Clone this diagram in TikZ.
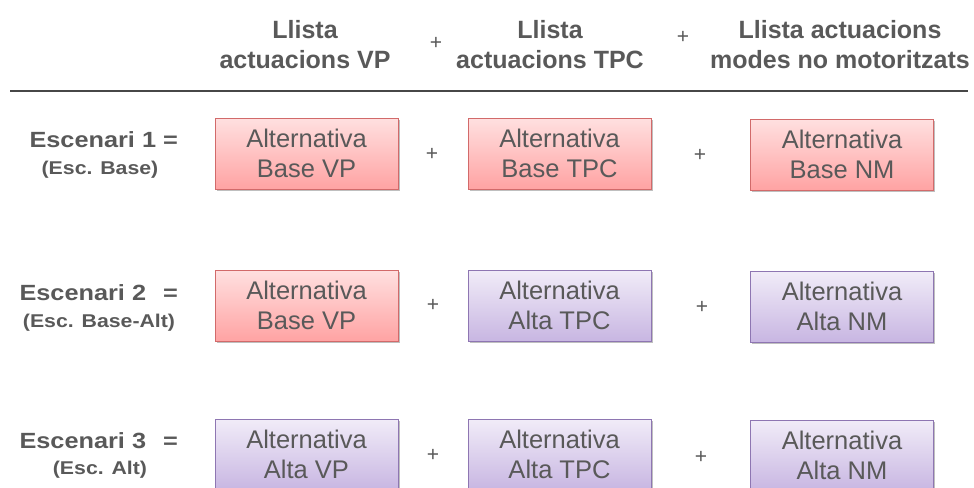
\documentclass[tikz,border=0pt]{standalone}
\usepackage{fontspec}
\setmainfont{Liberation Sans}
\newfontfamily\widefont[FakeStretch=1.15]{Liberation Sans}
\usetikzlibrary{shadows}
\definecolor{txt}{HTML}{595959}
\definecolor{pinktop}{HTML}{FFE0E0}
\definecolor{pinkbot}{HTML}{FFA3A3}
\definecolor{pinkline}{HTML}{D26A6A}
\definecolor{purptop}{HTML}{F1ECF8}
\definecolor{purpbot}{HTML}{C8B6E2}
\definecolor{purpline}{HTML}{8E76B2}
\tikzset{
  altbox/.style={minimum width=183pt, minimum height=71pt, inner sep=0pt,
    align=center, text=txt, font=\fontsize{25.5}{30}\selectfont,
    drop shadow={shadow xshift=1.5pt, shadow yshift=-2pt, fill=black, opacity=0.25}},
  basebox/.style={altbox, draw=pinkline, line width=0.8pt, top color=pinktop, bottom color=pinkbot},
  altabox/.style={altbox, draw=purpline, line width=0.8pt, top color=purptop, bottom color=purpbot},
  head/.style={align=center, text=txt, font=\bfseries\fontsize{25}{30}\selectfont},
  plus/.style={text=txt, font=\fontsize{21}{22}\selectfont},
  rowlab/.style={text=txt, font=\widefont\bfseries\fontsize{22}{24}\selectfont, anchor=west},
  sublab/.style={text=txt, font=\widefont\bfseries\fontsize{18.5}{20}\selectfont},
}
\begin{document}
\begin{tikzpicture}[x=1pt,y=-1pt]
\useasboundingbox (0,0) rectangle (974,487);
% headers
\node[head] (h1) at (305,45) {Llista\\actuacions VP};
\node[head] (h2) at (550,45) {Llista\\actuacions TPC};
\node[head] (h3) at (840,45) {Llista actuacions\\modes no motoritzats};
\node[plus] (hp1) at (436,43) {+};
\node[plus] (hp2) at (683,37) {+};
\coordinate (l1) at (10,91);
\coordinate (l2) at (968,91);
\draw[txt!80!black, line width=1.2pt] (l1) -- (l2);
% row labels
\node[rowlab] (r1) at (26,140) {Escenari 1 =};
\node[sublab] (s1) at (100,170) {(Esc. Base)};
\node[rowlab] (r2) at (16,293) {Escenari 2\hspace{17pt}=};
\node[sublab] (s2) at (99,323) {(Esc. Base-Alt)};
\node[rowlab] (r3) at (16,441) {Escenari 3\hspace{17pt}=};
\node[sublab] (s3) at (100,470) {(Esc. Alt)};
% boxes row 1
\node[basebox] (a11) at (306.5,153.5) {Alternativa\\Base VP};
\node[basebox] (a12) at (559.5,153.5) {Alternativa\\Base TPC};
\node[basebox] (a13) at (842,154.5) {Alternativa\\Base NM};
\node[plus] (p11) at (432,154) {+};
\node[plus] (p12) at (700,155) {+};
% row 2
\node[basebox] (a21) at (306.5,305.5) {Alternativa\\Base VP};
\node[altabox] (a22) at (559.5,305.5) {Alternativa\\Alta TPC};
\node[altabox] (a23) at (842,306.5) {Alternativa\\Alta NM};
\node[plus] (p21) at (433,305) {+};
\node[plus] (p22) at (702,307) {+};
% row 3
\node[altabox] (a31) at (306.5,454.5) {Alternativa\\Alta VP};
\node[altabox] (a32) at (559.5,454.5) {Alternativa\\Alta TPC};
\node[altabox] (a33) at (842,455.5) {Alternativa\\Alta NM};
\node[plus] (p31) at (433,455) {+};
\node[plus] (p32) at (701,457) {+};
\end{tikzpicture}
\end{document}
